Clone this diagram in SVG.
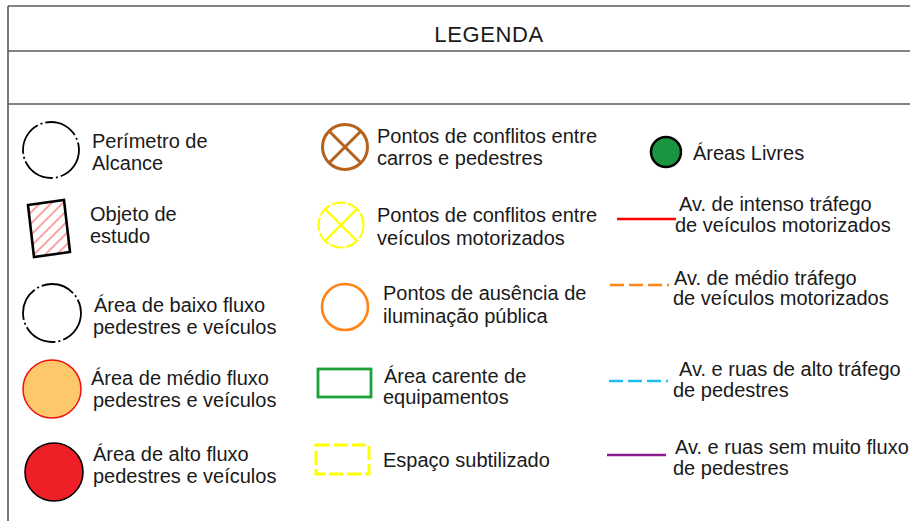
<svg xmlns="http://www.w3.org/2000/svg" width="910" height="521" viewBox="0 0 910 521">
<style>
text{font-family:"Liberation Sans",Arial,sans-serif;font-size:20px;fill:#1a1a1a}
.frame{stroke:#5a5a5a;stroke-width:1.6;fill:none}
.dd{fill:#fff;stroke:#000;stroke-width:1.8;stroke-dasharray:34 3 2 3}
</style>
<defs>
<pattern id="hatch" patternUnits="userSpaceOnUse" width="8" height="8" patternTransform="rotate(-45)">
<line x1="0" y1="4" x2="8" y2="4" stroke="#f03030" stroke-width="0.9"/>
</pattern>
</defs>
<rect width="910" height="521" fill="#fff"/>
<g id="frame">
<line class="frame" x1="8" y1="6" x2="910" y2="6"/>
<line class="frame" x1="8" y1="51" x2="910" y2="51"/>
<line class="frame" x1="8" y1="104" x2="910" y2="104"/>
<line class="frame" x1="8" y1="6" x2="8" y2="521"/>
<text x="489" y="42" text-anchor="middle" style="font-size:22px;letter-spacing:0.6px">LEGENDA</text>
</g>
<g id="perimetro">
<circle class="dd" cx="51" cy="150" r="28"/>
<text x="92" y="148">Perímetro de</text>
<text x="92" y="170">Alcance</text>
</g>
<g id="objeto">
<polygon points="28,205 64,200 70,252 34,257" fill="url(#hatch)" stroke="#000" stroke-width="2.6"/>
<text x="90" y="221">Objeto de</text>
<text x="90" y="243">estudo</text>
</g>
<g id="baixo">
<circle class="dd" cx="52" cy="313" r="29"/>
<text x="94" y="312">Área de baixo fluxo</text>
<text x="93" y="334">pedestres e veículos</text>
</g>
<g id="medio">
<circle cx="52" cy="389" r="29" fill="#fdc86a" stroke="#f01010" stroke-width="1.5"/>
<text x="91" y="385">Área de médio fluxo</text>
<text x="93" y="407">pedestres e veículos</text>
</g>
<g id="alto">
<circle cx="54" cy="472" r="29" fill="#ee1f27" stroke="#000" stroke-width="1.6"/>
<text x="93" y="461">Área de alto fluxo</text>
<text x="93" y="483">pedestres e veículos</text>
</g>
<g id="conflito-pedestres">
<circle cx="345" cy="147" r="22.5" fill="none" stroke="#b5621e" stroke-width="3"/>
<line x1="329" y1="131" x2="361" y2="163" stroke="#b5621e" stroke-width="3"/>
<line x1="361" y1="131" x2="329" y2="163" stroke="#b5621e" stroke-width="3"/>
<text x="377" y="143">Pontos de conflitos entre</text>
<text x="377" y="165">carros e pedestres</text>
</g>
<g id="conflito-veiculos">
<circle cx="341" cy="225" r="22.5" fill="none" stroke="#ffff00" stroke-width="2" stroke-dasharray="14 2"/>
<line x1="325" y1="209" x2="357" y2="241" stroke="#ffff00" stroke-width="2.4"/>
<line x1="357" y1="209" x2="325" y2="241" stroke="#ffff00" stroke-width="2.4"/>
<text x="377" y="222">Pontos de conflitos entre</text>
<text x="377" y="245">veículos motorizados</text>
</g>
<g id="iluminacao">
<circle cx="345" cy="307" r="23" fill="none" stroke="#ff8418" stroke-width="2.6"/>
<text x="383" y="300">Pontos de ausência de</text>
<text x="383" y="323">iluminação pública</text>
</g>
<g id="equipamentos">
<rect x="318" y="369" width="53" height="28" fill="none" stroke="#1ba33a" stroke-width="2.8"/>
<text x="384" y="383">Área carente de</text>
<text x="383" y="404">equipamentos</text>
</g>
<g id="subtilizado">
<rect x="316" y="445" width="53" height="29" fill="none" stroke="#ffff00" stroke-width="3" stroke-dasharray="14 4"/>
<text x="383" y="467">Espaço subtilizado</text>
</g>
<g id="areas-livres">
<circle cx="666" cy="152" r="15" fill="#1a9641" stroke="#000" stroke-width="2.5"/>
<text x="693" y="160">Áreas Livres</text>
</g>
<g id="av-intenso">
<line x1="617" y1="219" x2="676" y2="219" stroke="#ff0000" stroke-width="2.4"/>
<text x="679" y="211">Av. de intenso tráfego</text>
<text x="675" y="232">de veículos motorizados</text>
</g>
<g id="av-medio">
<line x1="610" y1="285" x2="669" y2="285" stroke="#ff8418" stroke-width="2.4" stroke-dasharray="14 5"/>
<text x="674" y="285">Av. de médio tráfego</text>
<text x="673" y="305">de veículos motorizados</text>
</g>
<g id="av-pedestres-alto">
<line x1="609" y1="381" x2="668" y2="381" stroke="#1ebef0" stroke-width="2.4" stroke-dasharray="14 5"/>
<text x="679" y="376">Av. e ruas de alto tráfego</text>
<text x="673" y="397">de pedestres</text>
</g>
<g id="av-pedestres-baixo">
<line x1="607" y1="455" x2="666" y2="455" stroke="#8b1a8b" stroke-width="2.4"/>
<text x="675" y="454">Av. e ruas sem muito fluxo</text>
<text x="673" y="475">de pedestres</text>
</g>
</svg>
